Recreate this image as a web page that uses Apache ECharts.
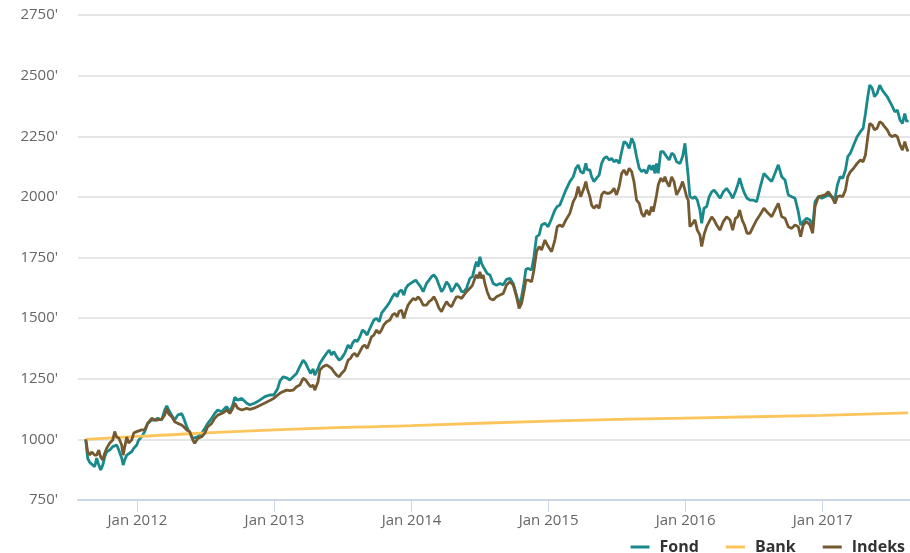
<!DOCTYPE html>
<html>
<head>
<meta charset="utf-8">
<script src="https://cdn.jsdelivr.net/npm/echarts@6/dist/echarts.min.js"></script>
<style>
html,body{margin:0;padding:0;background:#fff;}
#chart{width:910px;height:553px;}
</style>
</head>
<body>
<div id="chart"></div>
<script>
// Time positions as decimal years
const years = [
2011.623,2011.637,2011.652,2011.666,2011.688,2011.703,2011.718,2011.732,2011.747,2011.762,
2011.776,2011.798,2011.820,2011.834,2011.849,2011.864,2011.885,2011.896,2011.907,2011.922,
2011.936,2011.958,2011.973,2011.995,2012.009,2012.031,2012.053,2012.075,2012.104,2012.126,
2012.148,2012.177,2012.199,2012.214,2012.228,2012.250,2012.272,2012.294,2012.323,2012.338,
2012.360,2012.382,2012.404,2012.418,2012.440,2012.469,2012.491,2012.513,2012.542,2012.564,
2012.586,2012.615,2012.637,2012.652,2012.674,2012.696,2012.710,2012.732,2012.761,2012.798,
2012.820,2012.858,2012.893,2012.930,2012.966,2012.995,2013.024,2013.039,2013.063,2013.088,
2013.112,2013.136,2013.161,2013.185,2013.209,2013.228,2013.245,2013.263,2013.282,2013.294,
2013.307,2013.318,2013.331,2013.355,2013.380,2013.399,2013.416,2013.433,2013.453,2013.472,
2013.489,2013.513,2013.537,2013.555,2013.569,2013.586,2013.603,2013.623,2013.642,2013.659,
2013.676,2013.691,2013.708,2013.725,2013.745,2013.764,2013.781,2013.798,2013.818,2013.842,
2013.861,2013.878,2013.895,2013.909,2013.927,2013.944,2013.958,2013.975,2013.993,2014.012,
2014.031,2014.048,2014.066,2014.085,2014.109,2014.128,2014.146,2014.163,2014.182,2014.201,
2014.219,2014.236,2014.255,2014.274,2014.292,2014.309,2014.328,2014.347,2014.365,2014.382,
2014.401,2014.426,2014.445,2014.462,2014.474,2014.486,2014.499,2014.511,2014.523,2014.535,
2014.552,2014.572,2014.596,2014.620,2014.645,2014.669,2014.693,2014.718,2014.742,2014.766,
2014.785,2014.803,2014.820,2014.834,2014.851,2014.876,2014.893,2014.912,2014.931,2014.949,
2014.973,2014.997,2015.022,2015.046,2015.063,2015.082,2015.102,2015.126,2015.155,2015.180,
2015.199,2015.216,2015.234,2015.253,2015.272,2015.282,2015.301,2015.314,2015.331,2015.350,
2015.369,2015.387,2015.404,2015.423,2015.442,2015.460,2015.477,2015.496,2015.515,2015.533,
2015.550,2015.569,2015.588,2015.606,2015.623,2015.642,2015.661,2015.679,2015.696,2015.715,
2015.735,2015.752,2015.764,2015.776,2015.788,2015.800,2015.818,2015.837,2015.849,2015.861,
2015.880,2015.898,2015.915,2015.934,2015.959,2015.978,2015.995,2016.007,2016.019,2016.031,
2016.051,2016.068,2016.085,2016.104,2016.117,2016.134,2016.153,2016.172,2016.190,2016.207,
2016.226,2016.251,2016.275,2016.299,2016.324,2016.343,2016.363,2016.380,2016.394,2016.412,
2016.429,2016.448,2016.469,2016.493,2016.518,2016.542,2016.571,2016.603,2016.628,2016.652,
2016.676,2016.701,2016.725,2016.749,2016.774,2016.798,2016.822,2016.839,2016.858,2016.883,
2016.907,2016.927,2016.944,2016.969,2016.993,2017.017,2017.041,2017.066,2017.090,2017.107,
2017.127,2017.146,2017.166,2017.183,2017.202,2017.226,2017.251,2017.275,2017.295,2017.312,
2017.329,2017.343,2017.361,2017.378,2017.397,2017.416,2017.434,2017.451,2017.471,2017.490,
2017.509,2017.526,2017.545,2017.564,2017.582,2017.599,2017.613,2017.623
];
const fond = [
1000,922,905,906,887,923,894,874,894,929,
949,956,970,963,977,956,923,894,915,935,
929,949,963,977,997,1011,1032,1066,1080,1080,
1087,1080,1121,1138,1121,1100,1080,1100,1107,1087,
1052,1025,1004,997,1011,1025,1045,1066,1087,1107,
1121,1114,1128,1135,1114,1142,1173,1162,1169,1149,
1142,1150,1162,1176,1183,1183,1210,1240,1258,1254,
1245,1258,1272,1300,1327,1313,1293,1272,1290,1265,
1258,1293,1313,1334,1355,1368,1348,1362,1341,1327,
1334,1355,1389,1375,1396,1410,1403,1423,1451,1444,
1430,1451,1472,1492,1499,1485,1520,1533,1547,1568,
1588,1602,1588,1609,1616,1595,1623,1636,1643,1650,
1657,1643,1630,1609,1643,1657,1671,1678,1664,1636,
1609,1623,1650,1636,1609,1623,1643,1630,1609,1609,
1623,1664,1671,1712,1733,1712,1753,1726,1712,1719,
1684,1678,1643,1636,1643,1637,1660,1664,1643,1595,
1554,1588,1643,1701,1705,1698,1753,1836,1843,1884,
1891,1877,1911,1946,1960,1966,1994,2028,2063,2083,
2118,2131,2104,2097,2138,2111,2111,2083,2063,2077,
2090,2138,2159,2166,2152,2159,2145,2152,2138,2186,
2228,2221,2200,2241,2221,2166,2118,2104,2111,2097,
2131,2111,2131,2097,2138,2097,2186,2186,2180,2166,
2152,2180,2173,2145,2138,2166,2221,2214,2083,2001,
1994,2001,1987,1946,1891,1953,1960,2001,2021,2028,
2015,1994,2021,2035,2015,1994,2021,2049,2077,2042,
2015,1994,1987,1987,1980,2035,2097,2077,2063,2097,
2132,2083,2070,2008,2001,1994,1939,1884,1898,1912,
1905,1877,1980,2001,1994,2001,2008,2001,1994,2049,
2083,2077,2111,2166,2180,2214,2248,2269,2283,2344,
2413,2461,2448,2413,2427,2461,2441,2427,2413,2393,
2372,2351,2358,2317,2303,2344,2310,2317
];
const indeks = [
1000,949,935,948,935,935,956,927,915,944,
964,985,997,1032,1010,1006,977,935,968,1010,
985,997,1026,1032,1032,1039,1039,1066,1087,1080,
1080,1083,1100,1128,1105,1094,1073,1066,1059,1052,
1039,1032,997,984,1004,1011,1025,1052,1066,1087,
1100,1107,1114,1121,1107,1128,1149,1128,1121,1128,
1124,1130,1140,1150,1160,1169,1183,1190,1197,1203,
1201,1203,1217,1224,1252,1245,1231,1217,1224,1203,
1197,1238,1286,1300,1307,1300,1293,1279,1265,1258,
1272,1286,1327,1334,1348,1355,1341,1362,1382,1389,
1375,1396,1423,1430,1451,1437,1451,1472,1485,1492,
1513,1520,1506,1527,1533,1499,1527,1554,1568,1581,
1575,1588,1575,1554,1554,1568,1575,1588,1568,1540,
1527,1547,1568,1554,1547,1568,1588,1588,1581,1595,
1609,1623,1636,1664,1678,1664,1691,1664,1678,1643,
1609,1581,1575,1588,1595,1602,1637,1650,1637,1588,
1540,1561,1609,1657,1657,1650,1698,1774,1795,1781,
1822,1795,1774,1822,1877,1884,1877,1905,1932,1980,
2001,2042,2001,2028,2063,2035,2001,1966,1953,1966,
1953,2008,2021,2015,2015,2021,2035,2008,2042,2097,
2111,2090,2118,2104,2063,1987,1973,1932,1918,1946,
1925,1960,1939,1946,2008,2049,2077,2063,2083,2063,
2042,2083,2063,2008,2035,2063,2028,2001,1987,1877,
1891,1905,1863,1843,1795,1843,1877,1898,1918,1905,
1884,1863,1898,1918,1905,1863,1911,1918,1946,1905,
1884,1850,1850,1877,1905,1925,1953,1932,1918,1946,
1973,1918,1912,1877,1870,1884,1877,1836,1884,1898,
1884,1850,1960,2001,2004,2008,2021,2001,1973,2001,
2004,2001,2028,2083,2104,2118,2138,2152,2145,2173,
2248,2303,2296,2276,2283,2310,2303,2290,2276,2255,
2248,2255,2248,2214,2193,2228,2200,2187
];
const bankYears = [2011.623, 2012.0, 2013.0, 2014.0, 2015.0, 2016.0, 2017.0, 2017.623];
const bank = [1000, 1012, 1039, 1057, 1075, 1088, 1099, 1109];
const tickYears = [2012, 2013, 2014, 2015, 2016, 2017];
const yTicks = [750, 1000, 1250, 1500, 1750, 2000, 2250, 2500, 2750];
const seriesNames = ['Fond', 'Bank', 'Indeks'];

const pair = (xs, vs) => xs.map((x, i) => [x, vs[i]]);

const FONT = '"Open Sans", "DejaVu Sans", sans-serif';
const chart = echarts.init(document.getElementById('chart'), null, {renderer: 'canvas'});
chart.setOption({
  animation: false,
  backgroundColor: '#ffffff',
  textStyle: {fontFamily: FONT},
  grid: {left: 78, right: 0, top: 15, bottom: 53, containLabel: false},
  legend: {
    data: seriesNames,
    right: 0, top: 534,
    itemWidth: 19, itemHeight: 3, itemGap: 27,
    icon: 'rect',
    textStyle: {fontFamily: FONT, fontSize: 16, fontWeight: 'bold', color: '#333333', padding: [0, 0, 0, 5]}
  },
  xAxis: {
    type: 'value',
    min: 2011.5664,
    max: 2017.637,
    axisLine: {show: true, lineStyle: {color: '#ccd6eb', width: 2}},
    axisTick: {show: true, length: 12, lineStyle: {color: '#ccd6eb', width: 1},
      customValues: tickYears},
    axisLabel: {
      customValues: tickYears,
      formatter: v => 'Jan ' + Math.round(v),
      color: '#666666', fontSize: 15, fontFamily: FONT, margin: 13
    },
    splitLine: {show: false}
  },
  yAxis: {
    type: 'value',
    min: yTicks[0], max: yTicks[yTicks.length - 1], interval: 250,
    axisLine: {show: false},
    axisTick: {show: false},
    axisLabel: {formatter: v => v + "'", color: '#666666', fontSize: 15, fontFamily: FONT, margin: 20},
    splitLine: {lineStyle: {color: '#e6e6e6', width: 2}}
  },
  series: [
    {name: 'Fond', type: 'line', data: pair(years, fond), showSymbol: false,
     lineStyle: {color: '#19898c', width: 2.8}, itemStyle: {color: '#19898c'}},
    {name: 'Bank', type: 'line', data: pair(bankYears, bank), showSymbol: false, smooth: true,
     lineStyle: {color: '#fbc55c', width: 2.8}, itemStyle: {color: '#fbc55c'}},
    {name: 'Indeks', type: 'line', data: pair(years, indeks), showSymbol: false,
     lineStyle: {color: '#755a31', width: 2.8}, itemStyle: {color: '#755a31'}}
  ]
});
</script>
</body>
</html>
